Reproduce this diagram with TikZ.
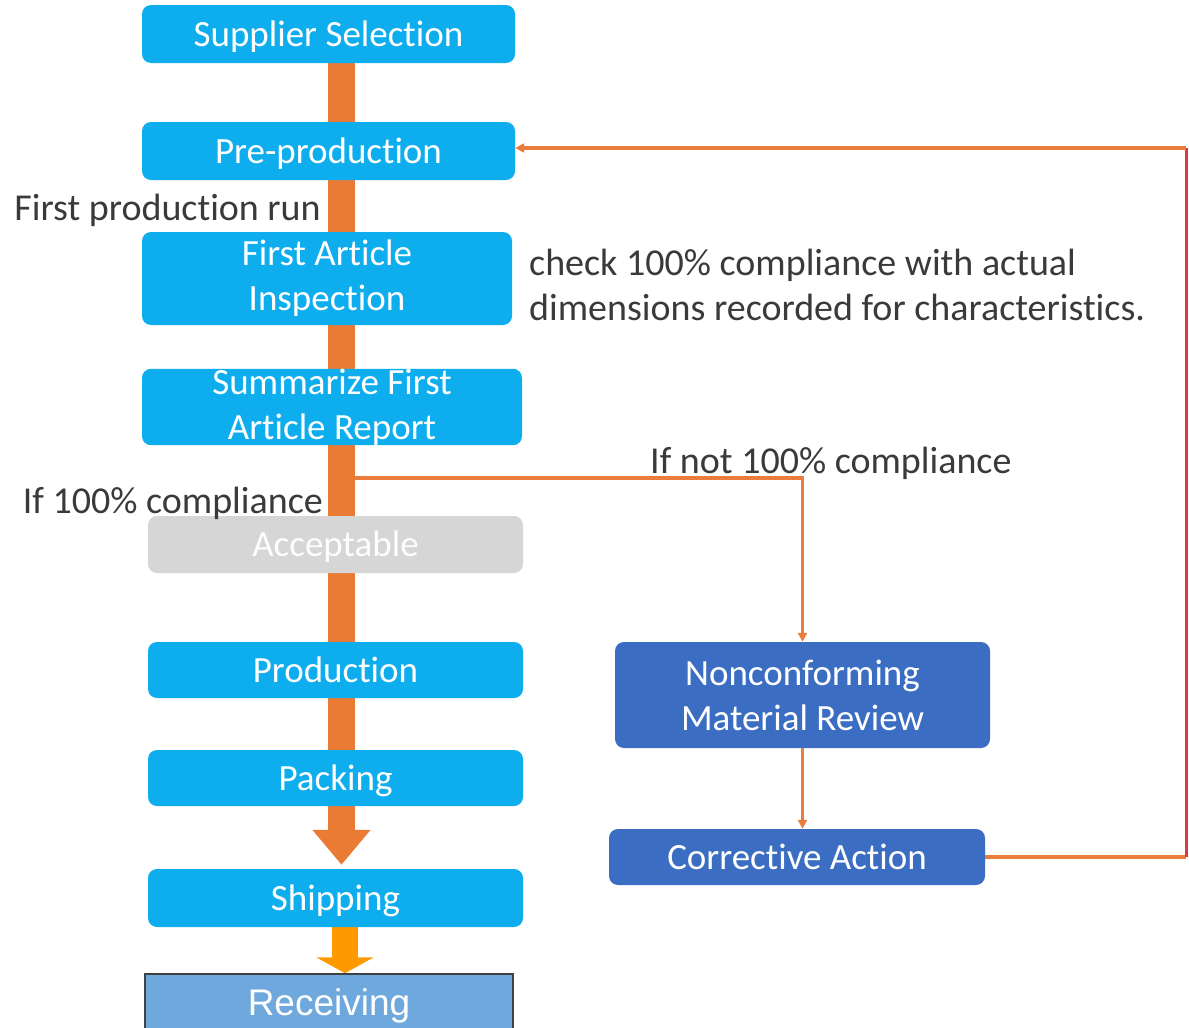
\documentclass[tikz,border=0pt]{standalone}
\usepackage{fontspec}
\setmainfont[Ligatures=NoCommon]{Carlito}
\newfontfamily\arialf{Liberation Sans}
\usetikzlibrary{arrows.meta,backgrounds}
\definecolor{lblue}{HTML}{0EADEE}
\definecolor{dblue}{HTML}{3B6EC2}
\definecolor{lgray}{HTML}{D6D6D6}
\definecolor{spineor}{HTML}{E97B35}
\definecolor{lineor}{HTML}{EA7D3C}
\definecolor{linered}{HTML}{E2383A}
\definecolor{recor}{HTML}{FF9900}
\definecolor{recfill}{HTML}{6FA8DC}
\definecolor{recline}{HTML}{404040}
\definecolor{lbltext}{HTML}{3A3A3A}
\begin{document}
\begin{tikzpicture}[x=1pt,y=-1pt,
  boxbase/.style={rounded corners=9pt, text=white, font=\fontsize{37}{45}\selectfont, align=center, inner sep=0pt},
  oneline/.style={text height=32pt, text depth=8pt},
  lbox/.style={boxbase, fill=lblue},
  dbox/.style={boxbase, fill=dblue},
  gbox/.style={boxbase, fill=lgray, text=white!96!lgray},
  recbox/.style={fill=recfill, draw=recline, line width=1.5pt, text=white, font=\arialf\fontsize{37}{44}\selectfont, inner sep=0pt, text height=33pt, text depth=8pt},
  lbl/.style={text=lbltext, font=\fontsize{38}{45}\selectfont, inner sep=0pt},
  spine/.style={draw=spineor, line width=27pt, -{Triangle[length=35pt,width=56pt]}},
  recarrow/.style={draw=recor, line width=26pt, -{Triangle[length=16pt,width=57pt]}},
  thinline/.style={draw=lineor, line width=3.5pt},
  thinarrow/.style={thinline, -{Triangle[length=9pt,width=9pt]}}
]
\useasboundingbox (0,0) rectangle (1189,1028);

% boxes
\node[lbox, oneline, minimum width=373pt, minimum height=58pt] (sup) at (328.5,34) {Supplier Selection};
\node[lbox, oneline, minimum width=373pt, minimum height=58pt] (pre) at (328.5,151) {Pre-production};
\node[lbox, minimum width=370pt, minimum height=93pt] (fai) at (327,278.5) {First Article\\Inspection};
\node[lbox, minimum width=380pt, minimum height=75pt] (sum) at (332,407) {Summarize First\\Article Report};
\node[gbox, oneline, minimum width=375pt, minimum height=57pt] (acc) at (335.5,544.5) {Acceptable};
\node[lbox, oneline, minimum width=375pt, minimum height=56pt] (prod) at (335.5,670) {Production};
\node[lbox, oneline, minimum width=375pt, minimum height=56pt] (pack) at (335.5,778) {Packing};
\node[lbox, oneline, minimum width=375pt, minimum height=58pt] (ship) at (335.5,898) {Shipping};
\node[recbox, minimum width=368pt, minimum height=57pt] (rec) at (329,1002.5) {Receiving};
\node[dbox, minimum width=375pt, minimum height=106pt] (nmr) at (802.5,695) {Nonconforming\\Material Review};
\node[dbox, oneline, minimum width=376pt, minimum height=56pt] (ca) at (797,857) {Corrective Action};

% labels
\node[lbl, anchor=east] (l1) at (321,210) {First production run};
\node[lbl, anchor=west, align=left] (l2) at (529,285) {check 100\% compliance with actual\\dimensions recorded for characteristics.};
\node[lbl, anchor=west] (l3) at (650,463) {If not 100\% compliance};
\node[lbl, anchor=east] (l4) at (323,503) {If 100\% compliance};

% coordinates
\coordinate (spx) at (341.5,0);
\coordinate (recx) at (345,0);
\coordinate (brs) at (355,478);
\coordinate (brc) at (802.5,478);
\coordinate (fbA) at (1186,857);
\coordinate (fbB) at (1186,148);

\begin{pgfonlayer}{background}
  \fill[white] (0,0) rectangle (1189,1028);
  \draw[spine, shorten >=4pt] (sup.south -| spx) -- (ship.north -| spx);
  \draw[recarrow] (ship.south -| recx) -- (rec.north -| recx);
\end{pgfonlayer}

% branch to nonconforming
\draw[thinarrow] (brs) -- (brc) -- (nmr.north);
\draw[thinarrow] (nmr.south) -- (nmr.south |- ca.north);

% feedback loop
\draw[thinline] (ca.east) -- (fbA);
\draw[draw=linered, line width=3pt] (fbA) -- (fbB);
\draw[thinarrow] (fbB) -- (pre.east |- fbB);
\end{tikzpicture}
\end{document}
